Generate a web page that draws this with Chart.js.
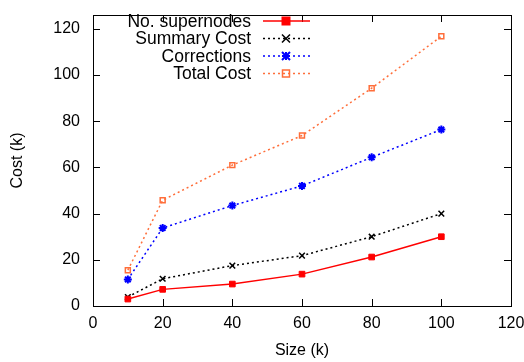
<!DOCTYPE html>
<html>
<head>
<meta charset="utf-8">
<script src="https://cdn.jsdelivr.net/npm/chart.js@4/dist/chart.umd.min.js"></script>
<style>
  html, body { margin: 0; padding: 0; background: #fff; overflow: hidden; }
  canvas { display: block; }
</style>
</head>
<body>
<canvas id="costChart" width="524" height="362"></canvas>
<script>
// data
const sizes = [10, 20, 40, 60, 80, 100];
const supernodes = [3, 7.2, 9.5, 13.8, 21.2, 30];
const summaryCost = [3.9, 11.8, 17.5, 21.8, 30, 40];
const corrections = [11.5, 33.8, 43.5, 52, 64.4, 76.4];
const totalCost = [15.5, 45.8, 61, 73.8, 94.3, 116.8];
const seriesNames = ['No. supernodes', 'Summary Cost', 'Corrections', 'Total Cost'];
const yTicks = [0, 20, 40, 60, 80, 100, 120];

const FONT = 'Liberation Sans, Arial, Helvetica, sans-serif';

function pts(ys) {
    return sizes.map((x, i) => ({ x: x, y: ys[i] }));
}

function noPad(scale) {
    scale.paddingLeft = 0;
    scale.paddingRight = 0;
    scale.paddingTop = 0;
    scale.paddingBottom = 0;
}

function drawMarker(ctx, ds, x, y) {
    const r = ds.pointRadius;
    ctx.save();
    ctx.fillStyle = ds.pointBackgroundColor;
    ctx.strokeStyle = ds.pointBorderColor;
    ctx.lineWidth = ds.pointBorderWidth;
    if (ds.pointStyle === 'rect') {
        if (ds.pointBackgroundColor !== 'transparent') ctx.fillRect(x - r, y - r, 2 * r, 2 * r);
        ctx.strokeRect(x - r, y - r, 2 * r, 2 * r);
    } else {
        ctx.beginPath();
        ctx.moveTo(x - r, y - r); ctx.lineTo(x + r, y + r);
        ctx.moveTo(x - r, y + r); ctx.lineTo(x + r, y - r);
        if (ds.pointStyle === 'star') {
            ctx.moveTo(x - r, y); ctx.lineTo(x + r, y);
            ctx.moveTo(x, y - r); ctx.lineTo(x, y + r);
        }
        ctx.stroke();
    }
    ctx.restore();
}

// inward ticks on all sides, plus the legend
const decorPlugin = {
    id: 'decor',
    afterDraw(chart) {
        const ctx = chart.ctx;
        const a = chart.chartArea;
        const xs = chart.scales.x, ys = chart.scales.y;
        ctx.save();
        ctx.fillStyle = '#000';
        const L = Math.round(a.left), R = Math.round(a.right);
        const T = Math.round(a.top), B = Math.round(a.bottom);
        xs.ticks.forEach(t => {
            const px = Math.round(xs.getPixelForValue(t.value));
            ctx.fillRect(px, B - 7, 1, 7);
            ctx.fillRect(px, T, 1, 7);
        });
        ys.ticks.forEach(t => {
            const py = Math.round(ys.getPixelForValue(t.value));
            ctx.fillRect(L, py, 7, 1);
            ctx.fillRect(R - 7, py, 7, 1);
        });

        ctx.font = '17.5px ' + FONT;
        ctx.textAlign = 'right';
        ctx.textBaseline = 'middle';
        chart.data.datasets.forEach((ds, i) => {
            const y = 21 + i * 17.5;
            ctx.fillStyle = '#000';
            ctx.fillText(ds.label, 251, y + 1);
            ctx.beginPath();
            ctx.strokeStyle = ds.borderColor;
            ctx.lineWidth = ds.borderWidth;
            ctx.setLineDash(ds.borderDash || []);
            ctx.moveTo(263, y); ctx.lineTo(310, y);
            ctx.stroke();
            ctx.setLineDash([]);
            drawMarker(ctx, ds, 286, y);
        });
        ctx.restore();
    }
};

const datasets = [
    {
        label: seriesNames[0], data: pts(supernodes),
        borderColor: '#ff0000', borderWidth: 1.5,
        pointStyle: 'rect', pointRadius: 4, pointBackgroundColor: '#ff0000',
        pointBorderColor: '#ff0000', pointBorderWidth: 1
    },
    {
        label: seriesNames[1], data: pts(summaryCost),
        borderColor: '#000000', borderWidth: 1.5, borderDash: [2, 3],
        pointStyle: 'crossRot', pointRadius: 4, pointBackgroundColor: '#000000',
        pointBorderColor: '#000000', pointBorderWidth: 1.5
    },
    {
        label: seriesNames[2], data: pts(corrections),
        borderColor: '#0000ff', borderWidth: 1.5, borderDash: [2, 3],
        pointStyle: 'star', pointRadius: 4, pointBackgroundColor: '#0000ff',
        pointBorderColor: '#0000ff', pointBorderWidth: 2
    },
    {
        label: seriesNames[3], data: pts(totalCost),
        borderColor: '#ff6e3a', borderWidth: 1.5, borderDash: [2, 3],
        pointStyle: 'rect', pointRadius: 3.5, pointBackgroundColor: 'transparent',
        pointBorderColor: '#ff6e3a', pointBorderWidth: 1.5
    }
];

const frameBorder = { display: true, color: '#000', width: 1 };

new Chart(document.getElementById('costChart'), {
    type: 'line',
    data: { datasets: datasets },
    plugins: [decorPlugin],
    options: {
        responsive: false,
        animation: false,
        layout: { padding: { left: 0, right: 13, top: 15, bottom: 0 } },
        plugins: { legend: { display: false }, tooltip: { enabled: false } },
        elements: { line: { tension: 0 } },
        scales: {
            x: {
                type: 'linear', min: 0, max: 120,
                ticks: { stepSize: 20, color: '#000', font: { family: FONT, size: 16 }, padding: 8, maxRotation: 0 },
                grid: { display: false, drawTicks: false },
                border: frameBorder,
                title: { display: true, text: 'Size (k)', color: '#000', font: { family: FONT, size: 16 }, padding: { top: 4, bottom: 2 } },
                afterFit(scale) { scale.height = 56; noPad(scale); }
            },
            x2: {
                type: 'linear', position: 'top', min: 0, max: 120,
                ticks: { display: false },
                grid: { display: false, drawTicks: false },
                border: frameBorder,
                afterFit(scale) { scale.height = 0; noPad(scale); }
            },
            y: {
                type: 'linear', min: 0, max: 126,
                afterBuildTicks(scale) { scale.ticks = yTicks.map(v => ({ value: v })); },
                ticks: { color: '#000', font: { family: FONT, size: 16 }, padding: 13 },
                grid: { display: false, drawTicks: false },
                border: frameBorder,
                title: { display: true, text: 'Cost (k)', color: '#000', font: { family: FONT, size: 16 }, padding: { top: 8, bottom: 0 } },
                afterFit(scale) { scale.width = 93; noPad(scale); }
            },
            y2: {
                type: 'linear', position: 'right', min: 0, max: 126,
                ticks: { display: false },
                grid: { display: false, drawTicks: false },
                border: frameBorder,
                afterFit(scale) { scale.width = 0; noPad(scale); }
            }
        }
    }
});
</script>
</body>
</html>
